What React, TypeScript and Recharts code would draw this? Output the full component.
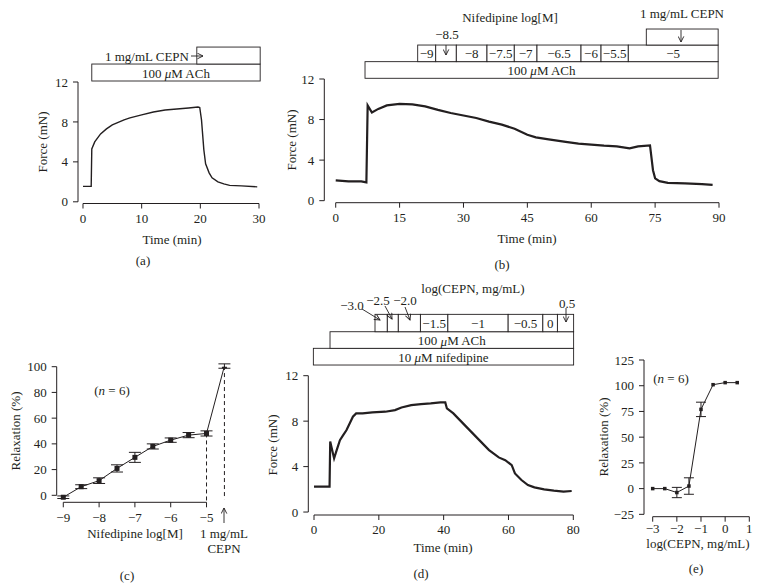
import React from 'react';
import { LineChart, Line, XAxis, YAxis, ReferenceArea, ReferenceLine, ErrorBar } from 'recharts';

const INK = '#231f20';
const FONT = '"Liberation Serif", "Times New Roman", serif';

// (a) force trace, 100 uM ACh then 1 mg/mL CEPN
const aTime = [0, 1.4, 1.5, 2, 3, 4, 5, 6, 7, 8, 10, 12, 14, 16, 18, 19.6, 19.9, 20.2, 20.6, 20.9, 21.5, 22, 23, 24, 25, 27, 29.7];
const aForce = [1.55, 1.55, 5.3, 6.0, 6.8, 7.3, 7.7, 7.95, 8.2, 8.4, 8.7, 9.0, 9.2, 9.3, 9.4, 9.5, 9.45, 8.2, 5.2, 3.8, 2.9, 2.4, 2.0, 1.8, 1.65, 1.6, 1.5];

// (b) force trace, cumulative nifedipine then CEPN
const bTime = [0, 3, 6, 7.2, 7.5, 8.5, 10, 12, 15, 18, 21, 24, 27, 30, 33, 36, 39, 42, 45, 47, 50, 54, 57, 60, 63, 66, 69, 71, 73.8, 74.5, 75, 76, 78, 82, 86, 88.5];
const bForce = [2.0, 1.9, 1.9, 1.8, 9.4, 8.7, 9.05, 9.4, 9.55, 9.5, 9.3, 8.95, 8.65, 8.4, 8.15, 7.8, 7.5, 7.1, 6.5, 6.25, 6.05, 5.8, 5.62, 5.52, 5.42, 5.36, 5.16, 5.36, 5.45, 3.0, 2.2, 1.93, 1.76, 1.7, 1.63, 1.55];
const bNifEdges = [19.25, 23.48, 28.32, 35.52, 41.93, 47.26, 57.6, 62.3, 68.7, 89.8];
const bNifLabels = ['−9', '', '−8', '−7.5', '−7', '−6.5', '−6', '−5.5', '−5'];

// (c) relaxation vs nifedipine, last point = CEPN
const cDose = [-9, -8.5, -8, -7.5, -7, -6.5, -6, -5.5, -5, -4.5];
const cRelax = [-1.5, 6.7, 11.4, 20.9, 29.5, 38, 42.9, 46.8, 48.1, 100.5];
const cErr = [1, 1.5, 2.2, 2.8, 3.9, 2, 1.7, 2, 2, 1.7];

// (d) force trace, nifedipine + ACh, cumulative CEPN
const dTime = [0, 4.8, 5.0, 6.2, 7, 8, 9, 10, 11, 12, 13, 15, 18, 22, 25, 27, 30, 33, 36, 39, 40.5, 41, 43, 45, 48, 51, 54, 57, 59, 61, 62, 64, 66, 68, 71, 74, 77, 79.5];
const dForce = [2.23, 2.23, 6.2, 4.72, 5.45, 6.33, 6.77, 7.2, 7.8, 8.39, 8.68, 8.68, 8.77, 8.83, 8.97, 9.2, 9.41, 9.5, 9.56, 9.65, 9.65, 9.12, 8.68, 8.09, 7.21, 6.33, 5.45, 4.81, 4.57, 4.13, 3.4, 2.82, 2.38, 2.17, 1.99, 1.88, 1.79, 1.85];
const dCepnEdges = [18.82, 22.62, 26.01, 32.83, 41.3, 59.9, 70.6, 75.1, 80.1];
const dCepnLabels = ['', '', '', '−1.5', '−1', '−0.5', '0', ''];

// (e) relaxation vs log CEPN
const eDose = [-3, -2.5, -2, -1.5, -1, -0.5, 0, 0.5];
const eRelax = [0, 0, -3.8, 2.5, 77, 101, 103, 103];
const eErr = [0, 0, 5, 8, 7, 0, 0, 0];

const fmt = (v: number) => String(v).replace('-', '\u2212');

const tickStyle = { fontSize: 13, fill: INK };

const boxShape = (label?: React.ReactNode) => (p: any) => (
  <g>
    <rect x={p.x} y={p.y} width={p.width} height={p.height} fill="#fff" stroke={INK} strokeWidth={0.9} />
    {label ? (
      <text x={p.x + p.width / 2} y={p.y + p.height / 2 + 0.5} textAnchor="middle" dominantBaseline="central" fontSize={13} fill={INK}>
        {label}
      </text>
    ) : null}
  </g>
);

const box = (key: string, x1: number, x2: number, y1: number, y2: number, label?: React.ReactNode) => (
  <ReferenceArea key={key} x1={x1} x2={x2} y1={y1} y2={y2} ifOverflow="visible" shape={boxShape(label)} />
);

const seg = (key: string, x1: number, y1: number, x2: number, y2: number, dash?: string) => (
  <ReferenceLine
    key={key}
    segment={[{ x: x1, y: y1 }, { x: x2, y: y2 }]}
    stroke={INK}
    strokeWidth={1}
    strokeDasharray={dash}
    ifOverflow="visible"
  />
);

const square = (s: number) => (p: any) => (
  <rect key={`d${p.index}`} x={p.cx - s / 2} y={p.cy - s / 2} width={s} height={s} fill={INK} />
);

const uM = (rest: string) => (
  <>
    {rest.split('μ')[0]}
    <tspan fontStyle="italic">μ</tspan>
    {rest.split('μ')[1]}
  </>
);

const axisProps = {
  axisLine: false,
  tickLine: { stroke: INK },
  tickSize: 5,
  tickMargin: 5,
  tick: tickStyle,
  interval: 0 as const,
  tickFormatter: fmt,
  allowDataOverflow: true,
};

function PanelA() {
  const data = aTime.map((t, i) => ({ t, f: aForce[i] }));
  return (
    <div style={{ position: 'absolute', left: 0, top: 0 }}>
      <LineChart width={270} height={240} data={data} margin={{ top: 82, right: 11, bottom: 6.5, left: 0 }}>
        <XAxis dataKey="t" type="number" domain={[-0.85, 30]} ticks={[0, 10, 20, 30]} height={30} {...axisProps} />
        <YAxis type="number" domain={[-0.17, 12]} ticks={[0, 4, 8, 12]} width={78} {...axisProps} />
        {seg('ya', -0.85, 0, -0.85, 12)}
        {seg('xa', 0, -0.17, 30, -0.17)}
        {box('ach', 1.5, 30.2, 12.1, 13.8, uM('100 μM ACh'))}
        {box('cepn', 19.4, 30.2, 13.8, 15.5)}
        <Line dataKey="f" type="linear" stroke={INK} strokeWidth={1.4} dot={false} activeDot={false} isAnimationActive={false} />
      </LineChart>
    </div>
  );
}

function PanelB() {
  const data = bTime.map((t, i) => ({ t, f: bForce[i] }));
  return (
    <div style={{ position: 'absolute', left: 280, top: 0 }}>
      <LineChart width={450} height={240} data={data} margin={{ top: 79, right: 11, bottom: 7.3, left: 0 }}>
        <XAxis dataKey="t" type="number" domain={[-2.68, 90]} ticks={[0, 15, 30, 45, 60, 75, 90]} height={30} {...axisProps} />
        <YAxis type="number" domain={[-0.2, 12]} ticks={[0, 4, 8, 12]} width={44.3} {...axisProps} />
        {seg('ya', -2.68, 0, -2.68, 12)}
        {seg('xa', 0, -0.2, 90, -0.2)}
        {box('ach', 6.88, 89.8, 12.07, 13.71, uM('100 μM ACh'))}
        {bNifLabels.map((lab, i) => box(`nif${i}`, bNifEdges[i], bNifEdges[i + 1], 13.71, 15.35, lab))}
        {box('cepn', 72.93, 89.8, 15.35, 16.93)}
        <Line dataKey="f" type="linear" stroke={INK} strokeWidth={2.2} dot={false} activeDot={false} isAnimationActive={false} />
      </LineChart>
    </div>
  );
}

function PanelC() {
  const data = cDose.map((x, i) => ({ x, y: cRelax[i], err: cErr[i] }));
  return (
    <div style={{ position: 'absolute', left: 0, top: 300 }}>
      <LineChart width={240} height={240} data={data} margin={{ top: 66.7, right: 12, bottom: 7.7, left: 0 }}>
        <XAxis dataKey="x" type="number" domain={[-9.184, -4.4]} ticks={[-9, -8, -7, -6, -5]} height={30} {...axisProps} />
        <YAxis type="number" domain={[-5.44, 100]} ticks={[0, 20, 40, 60, 80, 100]} width={56.7} {...axisProps} />
        {seg('ya', -9.184, 0, -9.184, 100)}
        {seg('xa', -9, -5.44, -5, -5.44)}
        {seg('d1', -5, 48.1, -5, -5.44, '4 3')}
        {seg('d2', -4.5, 100.5, -4.5, -3, '4 3')}
        <Line dataKey="y" type="linear" stroke={INK} strokeWidth={1} dot={square(5)} activeDot={false} isAnimationActive={false}>
          <ErrorBar dataKey="err" width={6} stroke={INK} strokeWidth={1} isAnimationActive={false} />
        </Line>
      </LineChart>
    </div>
  );
}

function PanelD() {
  const data = dTime.map((t, i) => ({ t, f: dForce[i] }));
  return (
    <div style={{ position: 'absolute', left: 260, top: 280 }}>
      <LineChart width={330} height={270} data={data} margin={{ top: 95.7, right: 16.7, bottom: 5, left: 0 }}>
        <XAxis dataKey="t" type="number" domain={[-1.76, 80]} ticks={[0, 20, 40, 60, 80]} height={30} {...axisProps} />
        <YAxis type="number" domain={[-0.26, 12]} ticks={[0, 4, 8, 12]} width={48.3} {...axisProps} />
        {seg('ya', -1.76, 0, -1.76, 12)}
        {seg('xa', 0, -0.26, 80, -0.26)}
        {box('nif', -0.2, 80.1, 12.94, 14.41, uM('10 μM nifedipine'))}
        {box('ach', 4.94, 80.1, 14.41, 15.87, uM('100 μM ACh'))}
        {dCepnLabels.map((lab, i) => box(`cepn${i}`, dCepnEdges[i], dCepnEdges[i + 1], 15.87, 17.4, lab))}
        <Line dataKey="f" type="linear" stroke={INK} strokeWidth={2.2} dot={false} activeDot={false} isAnimationActive={false} />
      </LineChart>
    </div>
  );
}

function PanelE() {
  const data = eDose.map((x, i) => ({ x, y: eRelax[i], err: eErr[i] }));
  return (
    <div style={{ position: 'absolute', left: 590, top: 330 }}>
      <LineChart width={170} height={220} data={data} margin={{ top: 30, right: 10.7, bottom: 3.3, left: 0 }}>
        <XAxis dataKey="x" type="number" domain={[-3.36, 1]} ticks={[-3, -2, -1, 0, 1]} height={30} {...axisProps} tickMargin={2} />
        <YAxis type="number" domain={[-27.3, 125]} ticks={[-25, 0, 25, 50, 75, 100, 125]} width={54} {...axisProps} />
        {seg('ya', -3.36, -25, -3.36, 125)}
        {seg('xa', -3, -27.3, 1, -27.3)}
        <Line dataKey="y" type="linear" stroke={INK} strokeWidth={1} dot={square(3.5)} activeDot={false} isAnimationActive={false}>
          <ErrorBar dataKey="err" width={5} stroke={INK} strokeWidth={1} isAnimationActive={false} />
        </Line>
      </LineChart>
    </div>
  );
}

const T = ({ x, y, children, rot, anchor = 'middle', size = 13 }: any) => (
  <text
    x={rot ? 0 : x}
    y={rot ? 0 : y}
    transform={rot ? `translate(${x},${y}) rotate(-90)` : undefined}
    textAnchor={anchor}
    dominantBaseline="central"
    fontSize={size}
    fill={INK}
  >
    {children}
  </text>
);

const Arrow = ({ x1, y1, x2, y2 }: any) => (
  <line x1={x1} y1={y1} x2={x2} y2={y2} stroke={INK} strokeWidth={0.9} markerEnd="url(#head)" />
);

function Overlay() {
  return (
    <svg width={760} height={588} style={{ position: 'absolute', left: 0, top: 0, pointerEvents: 'none' }}>
      <defs>
        <marker id="head" viewBox="0 0 10 10" refX="9" refY="5" markerWidth="7" markerHeight="7" orient="auto" markerUnits="userSpaceOnUse">
          <path d="M1,1 L9,5 L1,9" fill="none" stroke={INK} strokeWidth={1.3} />
        </marker>
      </defs>
      {/* (a) */}
      <T x={189} y={56} anchor="end">1 mg/mL CEPN</T>
      <Arrow x1={191} y1={56} x2={203} y2={56} />
      <T x={42} y={142} rot>Force (mN)</T>
      <T x={172} y={239}>Time (min)</T>
      <T x={143} y={260}>(a)</T>
      {/* (b) */}
      <T x={510} y={17}>Nifedipine log[M]</T>
      <T x={682} y={13}>1 mg/mL CEPN</T>
      <Arrow x1={681} y1={30} x2={681} y2={42} />
      <T x={447} y={34}>−8.5</T>
      <Arrow x1={446} y1={45} x2={446} y2={55} />
      <T x={291} y={140} rot>Force (mN)</T>
      <T x={527} y={238}>Time (min)</T>
      <T x={502} y={264}>(b)</T>
      {/* (c) */}
      <T x={15} y={431} rot>Relaxation (%)</T>
      <T x={112} y={390}>(<tspan fontStyle="italic">n</tspan> = 6)</T>
      <T x={135} y={533}>Nifedipine log[M]</T>
      <Arrow x1={224} y1={523} x2={224} y2={508} />
      <T x={224} y={533}>1 mg/mL</T>
      <T x={224} y={548}>CEPN</T>
      <T x={127} y={575}>(c)</T>
      {/* (d) */}
      <T x={473} y={288}>log(CEPN, mg/mL)</T>
      <T x={352} y={305}>−3.0</T>
      <T x={378} y={300}>−2.5</T>
      <T x={405} y={300}>−2.0</T>
      <T x={567} y={303}>0.5</T>
      <Arrow x1={362} y1={309} x2={380} y2={320} />
      <Arrow x1={385} y1={306} x2={392} y2={319} />
      <Arrow x1={405} y1={307} x2={410} y2={320} />
      <Arrow x1={566} y1={308} x2={566} y2={322} />
      <T x={272} y={445} rot>Force (mN)</T>
      <T x={443} y={547}>Time (min)</T>
      <T x={421} y={573}>(d)</T>
      {/* (e) */}
      <T x={603} y={437} rot>Relaxation (%)</T>
      <T x={671} y={378}>(<tspan fontStyle="italic">n</tspan> = 6)</T>
      <T x={698} y={543}>log(CEPN, mg/mL)</T>
      <T x={696} y={568}>(e)</T>
    </svg>
  );
}

export default function App() {
  return (
    <div style={{ position: 'absolute', left: 0, top: 0, width: 760, height: 588, background: '#fff', fontFamily: FONT, color: INK, overflow: 'hidden' }}>
      <PanelA />
      <PanelB />
      <PanelC />
      <PanelD />
      <PanelE />
      <Overlay />
    </div>
  );
}
